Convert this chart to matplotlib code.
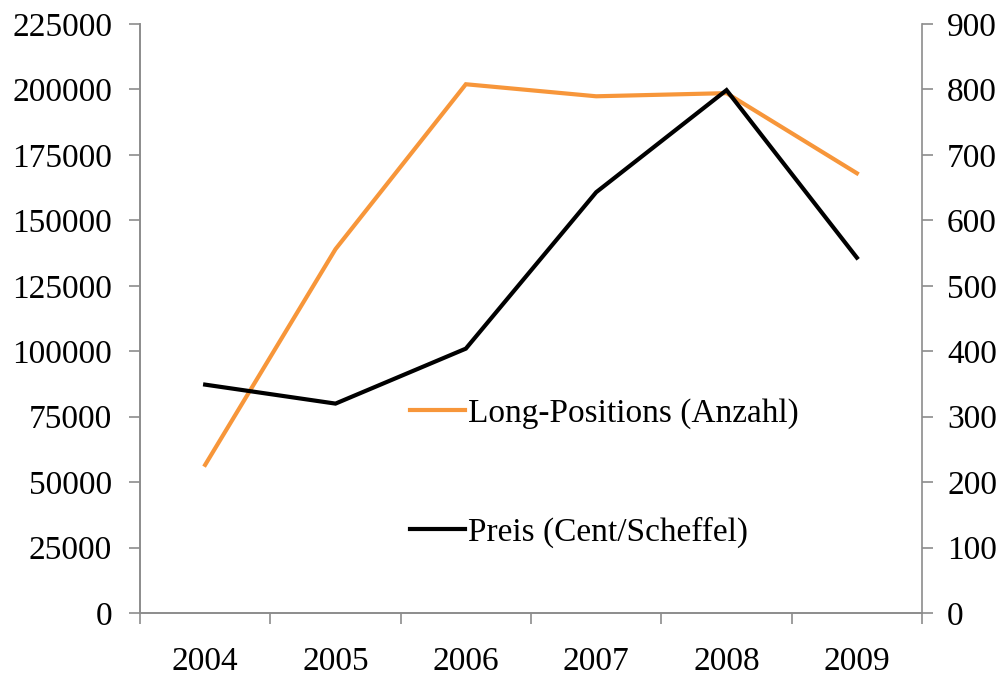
import matplotlib.pyplot as plt
from matplotlib.lines import Line2D

# Daten
jahre = ['2004', '2005', '2006', '2007', '2008', '2009']
long_positions = [56600, 139000, 202000, 197400, 198600, 168000]
preis = [349, 320, 404, 643, 799, 543]

links_ticks = list(range(0, 225001, 25000))
rechts_ticks = list(range(0, 901, 100))

orange = '#F7963A'
grau = '#8C8C8C'

plt.rcParams['font.family'] = ['Liberation Serif', 'DejaVu Serif']

fig = plt.figure(figsize=(10.02, 6.77), dpi=100)
ax = fig.add_axes([0.1397, 0.0945, 0.7805, 0.8700])
ax2 = ax.twinx()

x = list(range(len(jahre)))
ax.plot(x, long_positions, color=orange, lw=3.0, solid_joinstyle='miter')
ax2.plot(x, preis, color='black', lw=3.0, solid_joinstyle='miter')

ax.set_xlim(-0.5, len(jahre) - 0.5)
ax.set_ylim(0, 225000)
ax2.set_ylim(0, 900)

ax.set_yticks(links_ticks)
ax.set_yticklabels([str(v) for v in links_ticks])
ax2.set_yticks(rechts_ticks)
ax2.set_yticklabels([str(v) for v in rechts_ticks])

# Kategorien zwischen den Strichen
ax.set_xticks([i - 0.5 for i in range(len(jahre) + 1)])
ax.set_xticklabels([])
ax.set_xticks(x, minor=True)
ax.set_xticklabels(jahre, minor=True)
ax.tick_params(axis='x', which='major', length=8, width=1.2, color=grau, direction='out')
ax.tick_params(axis='x', which='minor', length=0, pad=24, labelsize=24)

ax.tick_params(axis='y', length=8, width=1.2, color=grau, direction='out', pad=12, labelsize=24)
ax2.tick_params(axis='y', length=8, width=1.2, color=grau, direction='out', pad=10, labelsize=24)

for a in (ax, ax2):
    a.spines['top'].set_visible(False)
    for s in ('left', 'right', 'bottom'):
        a.spines[s].set_color(grau)
        a.spines[s].set_linewidth(1.2)
ax.spines['right'].set_visible(False)

# Legende
handles = [Line2D([], [], color=orange, lw=3.0), Line2D([], [], color='black', lw=3.0)]
ax2.legend(handles, ['Long-Positions (Anzahl)', 'Preis (Cent/Scheffel)'],
           loc='upper left', bbox_to_anchor=(0.409, 0.412), bbox_transform=fig.transFigure,
           frameon=False, fontsize=24, handlelength=1.65, handletextpad=0.1,
           labelspacing=2.63, borderpad=0, borderaxespad=0)

fig.savefig('out.png', dpi=100)
